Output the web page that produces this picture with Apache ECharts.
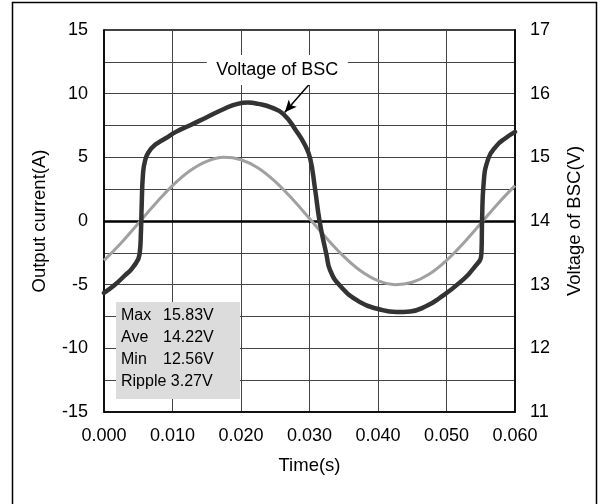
<!DOCTYPE html>
<html>
<head>
<meta charset="utf-8">
<script src="https://cdn.jsdelivr.net/npm/echarts@6/dist/echarts.min.js"></script>
<style>
html,body{margin:0;padding:0;background:#fff;}
#c{width:608px;height:504px;}
</style>
</head>
<body>
<div id="c"></div>
<script>
// Output current (A), left axis
var currentTime = [0, 0.0025, 0.005, 0.0075, 0.01, 0.0125, 0.015, 0.0175, 0.02, 0.0225, 0.025, 0.0275, 0.03, 0.0325, 0.035, 0.0375, 0.04, 0.0425, 0.045, 0.0475, 0.05, 0.0525, 0.055, 0.0575, 0.06];
var currentVal  = [-3.09, -1.72, -0.19, 1.36, 2.78, 3.93, 4.69, 5.00, 4.81, 4.16, 3.09, 1.72, 0.19, -1.36, -2.78, -3.93, -4.69, -5.00, -4.81, -4.16, -3.09, -1.72, -0.19, 1.36, 2.78];

// Voltage of BSC (V), right axis
var voltTime = [0, 0.0015, 0.003, 0.0042, 0.0052, 0.0054, 0.0055, 0.0057, 0.006, 0.0065, 0.0075, 0.009, 0.0105, 0.0125, 0.015, 0.0175, 0.0195, 0.021, 0.0225, 0.0245, 0.0262, 0.0281, 0.0293, 0.0301, 0.0308, 0.0315, 0.0325, 0.033, 0.0344, 0.0373, 0.0403, 0.0427, 0.0447, 0.047, 0.049, 0.052, 0.0539, 0.0551, 0.0552, 0.0554, 0.0561, 0.0573, 0.0586, 0.06];
var voltVal  = [12.87, 12.99, 13.14, 13.27, 13.48, 13.85, 14.24, 14.75, 14.95, 15.08, 15.20, 15.30, 15.40, 15.50, 15.63, 15.76, 15.84, 15.86, 15.84, 15.78, 15.68, 15.41, 15.20, 14.98, 14.51, 13.98, 13.46, 13.23, 12.99, 12.73, 12.61, 12.57, 12.58, 12.66, 12.79, 13.04, 13.25, 13.49, 14.04, 14.56, 14.98, 15.18, 15.30, 15.40];

var statsLines = ['Max', 'Ave', 'Min', 'Ripple'];
var statsVals  = ['15.83V', '14.22V', '12.56V', '3.27V'];

var xTicks = {min: 0, max: 0.06, interval: 0.01};
var leftTicks = {min: -15, max: 15, interval: 2.5, label: 5};
var rightTicks = {min: 11, max: 17, interval: 1};

function pairs(xs, ys) { return xs.map(function (x, i) { return [x, ys[i]]; }); }

var FONT = 'Liberation Sans, Arial, sans-serif';
var chart = echarts.init(document.getElementById('c'));

var graphics = [
  {type: 'rect', shape: {x: 12.5, y: 2.5, width: 584, height: 520}, style: {fill: 'none', stroke: '#000', lineWidth: 1.5}, z: 100},
  {type: 'rect', shape: {x: 116, y: 302, width: 124, height: 97}, style: {fill: '#dcdcdc'}, z: 50}
];
statsLines.forEach(function (s, i) {
  var txt = s === 'Ripple' ? s + ' ' + statsVals[i] : s;
  graphics.push({type: 'text', x: 121, y: 316 + i * 21.7, style: {text: txt, fill: '#000', font: '16px ' + FONT, verticalAlign: 'middle'}, z: 51});
  if (s !== 'Ripple') {
    graphics.push({type: 'text', x: 163, y: 316 + i * 21.7, style: {text: statsVals[i], fill: '#000', font: '16px ' + FONT, verticalAlign: 'middle'}, z: 51});
  }
});

chart.setOption({
  animation: false,
  backgroundColor: '#fff',
  grid: {left: 104, right: 93, top: 30, bottom: 92, show: true, borderColor: '#000', borderWidth: 1.5},
  xAxis: {
    type: 'value', min: xTicks.min, max: xTicks.max, interval: xTicks.interval,
    name: 'Time(s)', nameLocation: 'middle', nameGap: 44,
    nameTextStyle: {fontFamily: FONT, fontSize: 18.5, color: '#000'},
    axisLine: {show: true, onZero: false, lineStyle: {color: '#000', width: 1.5}},
    axisTick: {show: false},
    axisLabel: {fontFamily: FONT, fontSize: 18, color: '#000', margin: 15, formatter: function (v) { return v.toFixed(3); }},
    splitLine: {show: true, lineStyle: {color: '#444', width: 1}}
  },
  yAxis: [
    {
      type: 'value', min: leftTicks.min, max: leftTicks.max, interval: leftTicks.interval,
      name: 'Output current(A)', nameLocation: 'middle', nameGap: 55, nameRotate: 90,
      nameTextStyle: {fontFamily: FONT, fontSize: 18.5, color: '#000'},
      axisLine: {show: true, lineStyle: {color: '#000', width: 1.5}},
      axisTick: {show: false},
      axisLabel: {fontFamily: FONT, fontSize: 18, color: '#000', margin: 16,
        formatter: function (v) { return (Math.abs(v % leftTicks.label) < 1e-9) ? String(v) : ''; }},
      splitLine: {show: true, lineStyle: {color: '#444', width: 1}}
    },
    {
      type: 'value', min: rightTicks.min, max: rightTicks.max, interval: rightTicks.interval, position: 'right',
      name: 'Voltage of BSC(V)', nameLocation: 'middle', nameGap: 50, nameRotate: 90,
      nameTextStyle: {fontFamily: FONT, fontSize: 18.5, color: '#000'},
      axisLine: {show: true, lineStyle: {color: '#000', width: 1.5}},
      axisTick: {show: false},
      axisLabel: {fontFamily: FONT, fontSize: 18, color: '#000', margin: 15},
      splitLine: {show: false}
    }
  ],
  series: [
    {
      type: 'line', name: 'Output current', yAxisIndex: 0, data: pairs(currentTime, currentVal),
      smooth: 0.4, symbol: 'none', lineStyle: {color: '#a0a0a0', width: 3}, z: 3,
      markLine: {silent: true, symbol: 'none', label: {show: false},
        lineStyle: {color: '#000', width: 2.5, type: 'solid'}, data: [{yAxis: 0}], z: 2}
    },
    {
      type: 'line', name: 'Voltage of BSC', yAxisIndex: 1, data: pairs(voltTime, voltVal),
      smooth: 0.5, symbol: 'none', lineStyle: {color: '#333333', width: 4.5, join: 'round', cap: 'round'}, z: 4,
      markLine: {silent: true, symbol: ['none', 'arrow'], symbolSize: [8, 12], label: {show: false},
        lineStyle: {color: '#000', width: 1.5, type: 'solid'},
        data: [[{coord: [0.0300, 16.15]}, {coord: [0.0264, 15.71]}]]},
      markPoint: {silent: true, symbol: 'rect', symbolSize: [141, 30], itemStyle: {color: '#fff'},
        label: {show: true, position: 'inside', formatter: 'Voltage of BSC', color: '#000', fontFamily: FONT, fontSize: 18},
        data: [{coord: [0.0253, 16.37]}]}
    }
  ],
  graphic: graphics
});
</script>
</body>
</html>
